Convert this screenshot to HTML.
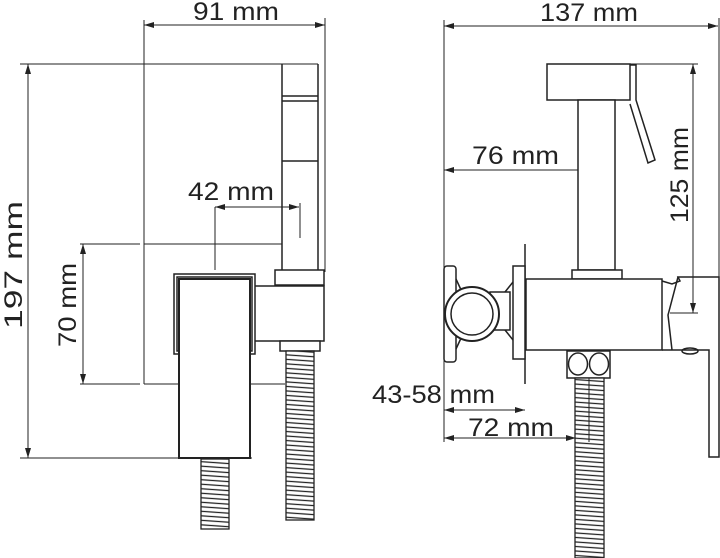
<!DOCTYPE html>
<html><head><meta charset="utf-8"><style>
html,body{margin:0;padding:0;background:#fff;}
svg{display:block}
text{font-family:"Liberation Sans",sans-serif;font-size:25px;fill:#222;}
</style></head><body>
<svg width="720" height="558" viewBox="0 0 720 558" xmlns="http://www.w3.org/2000/svg">
<defs>
<pattern id="hose" width="30" height="4.5" patternUnits="userSpaceOnUse" patternTransform="rotate(4)">
<rect width="30" height="4.5" fill="#fff"/>
<line x1="0" y1="1" x2="30" y2="1" stroke="#222" stroke-width="1.3"/>
</pattern>
<marker id="a" markerWidth="10" markerHeight="6" refX="10" refY="3" orient="auto-start-reverse" markerUnits="userSpaceOnUse">
<path d="M0,0 L10,3 L0,6 Z" fill="#222"/></marker>
</defs>
<g stroke="#222" stroke-width="1" fill="none">
<!-- LEFT VIEW -->
<line x1="144" y1="20" x2="144" y2="384"/>
<line x1="325" y1="18" x2="325" y2="272"/>
<line x1="144" y1="25" x2="325" y2="25" marker-start="url(#a)" marker-end="url(#a)"/>
<line x1="20" y1="64" x2="318" y2="64"/>
<line x1="20" y1="458" x2="252" y2="458"/>
<line x1="28" y1="64" x2="28" y2="458" marker-start="url(#a)" marker-end="url(#a)"/>
<line x1="80" y1="244" x2="140" y2="244"/>
<line x1="144" y1="244" x2="282" y2="244"/>
<line x1="80" y1="384" x2="140" y2="384"/>
<line x1="144" y1="384" x2="179" y2="384"/>
<line x1="251" y1="384" x2="285" y2="384"/>
<line x1="83" y1="244" x2="83" y2="384" marker-start="url(#a)" marker-end="url(#a)"/>
<line x1="215" y1="207" x2="215" y2="270"/>
<line x1="300" y1="203" x2="300" y2="238"/>
<line x1="215" y1="207" x2="299" y2="207" marker-start="url(#a)" marker-end="url(#a)"/>
<g stroke-width="1.5">
<line x1="282" y1="64" x2="282" y2="270"/>
<line x1="318" y1="64" x2="318" y2="270"/>
<line x1="282" y1="96" x2="318" y2="96"/>
<line x1="282" y1="101" x2="318" y2="101"/>
<line x1="282" y1="161" x2="318" y2="161"/>
<rect x="275" y="270" width="49" height="15" fill="#fff"/>
<rect x="252" y="286" width="72" height="55" fill="#fff"/>
<rect x="280" y="341" width="40" height="10" fill="#fff"/>
<rect x="174" y="274" width="81" height="80" fill="#fff"/>
<rect x="177" y="277" width="75" height="74"/>
<rect x="179" y="279" width="71" height="179" fill="#fff" stroke-width="2"/>
</g>
<rect x="201" y="459" width="28" height="70" fill="url(#hose)" stroke-width="1.3"/>
<rect x="286" y="351" width="28" height="169" fill="url(#hose)" stroke-width="1.3"/>

<!-- RIGHT VIEW -->
<line x1="444" y1="20" x2="444" y2="442"/>
<line x1="719" y1="18" x2="719" y2="277"/>
<line x1="444" y1="26" x2="718" y2="26" marker-start="url(#a)" marker-end="url(#a)"/>
<line x1="444" y1="170" x2="596" y2="170" marker-start="url(#a)" marker-end="url(#a)"/>
<line x1="596" y1="166" x2="596" y2="213"/>
<line x1="630" y1="64" x2="698" y2="64"/>
<line x1="670" y1="313" x2="698" y2="313"/>
<line x1="693" y1="64" x2="693" y2="313" marker-start="url(#a)" marker-end="url(#a)"/>
<line x1="444" y1="410" x2="525" y2="410" marker-start="url(#a)" marker-end="url(#a)"/>
<line x1="444" y1="438" x2="576" y2="438" marker-start="url(#a)" marker-end="url(#a)"/>
<g stroke-width="1.5">
<rect x="547" y="64" width="83" height="36" fill="#fff"/>
<path d="M630,65 L636,65 L636,100 L655,160 L648,163 L630,104"/>
<rect x="578" y="100" width="37" height="170" fill="#fff"/>
<rect x="572" y="270" width="50" height="9" fill="#fff"/>
<rect x="526" y="279" width="136" height="71" fill="#fff"/>
<line x1="525" y1="244" x2="525" y2="384"/>
<rect x="513" y="266" width="12" height="93" fill="#fff"/>
<path d="M662,281 L672,284 L680,281 L678,277 L719,277 L719,457 L709,457 L709,350 L672,350 L662,350"/>
<path d="M678,277 L668,315 L672,350"/>
<ellipse cx="690" cy="351" rx="8" ry="3"/>
<rect x="567" y="351" width="43" height="27" fill="#fff"/>
<ellipse cx="578" cy="364" rx="9.5" ry="11"/>
<ellipse cx="599" cy="364" rx="9.5" ry="11"/>
<rect x="444" y="266" width="12" height="96" rx="3" fill="#fff"/>
<path d="M456,279 L462,292 M456,349 L462,336"/>
<rect x="490" y="292" width="20" height="38" fill="#fff"/>
<path d="M505,292 L513,282 M505,330 L513,340"/>
<circle cx="472" cy="314" r="27" fill="#fff" stroke-width="2"/>
<circle cx="472" cy="314" r="21" stroke-width="1.5"/>
</g>
<rect x="575" y="378" width="29" height="180" fill="url(#hose)" stroke-width="1.3"/>
<line x1="589" y1="378" x2="589" y2="442"/>
</g>
<g lengthAdjust="spacingAndGlyphs">
<text x="193" y="20" textLength="86" lengthAdjust="spacingAndGlyphs">91 mm</text>
<text x="188" y="200" textLength="86" lengthAdjust="spacingAndGlyphs">42 mm</text>
<text transform="translate(22,265) rotate(-90)" x="-64" y="0" textLength="128" lengthAdjust="spacingAndGlyphs">197 mm</text>
<text transform="translate(76,305) rotate(-90)" x="-42" y="0" textLength="84" lengthAdjust="spacingAndGlyphs">70 mm</text>
<text x="540" y="21" textLength="98" lengthAdjust="spacingAndGlyphs">137 mm</text>
<text x="472" y="164" textLength="87" lengthAdjust="spacingAndGlyphs">76 mm</text>
<text transform="translate(688,175) rotate(-90)" x="-48" y="0" textLength="96" lengthAdjust="spacingAndGlyphs">125 mm</text>
<text x="372" y="403" textLength="123" lengthAdjust="spacingAndGlyphs">43-58 mm</text>
<text x="468" y="436" textLength="86" lengthAdjust="spacingAndGlyphs">72 mm</text>
</g>
</svg>
</body></html>
